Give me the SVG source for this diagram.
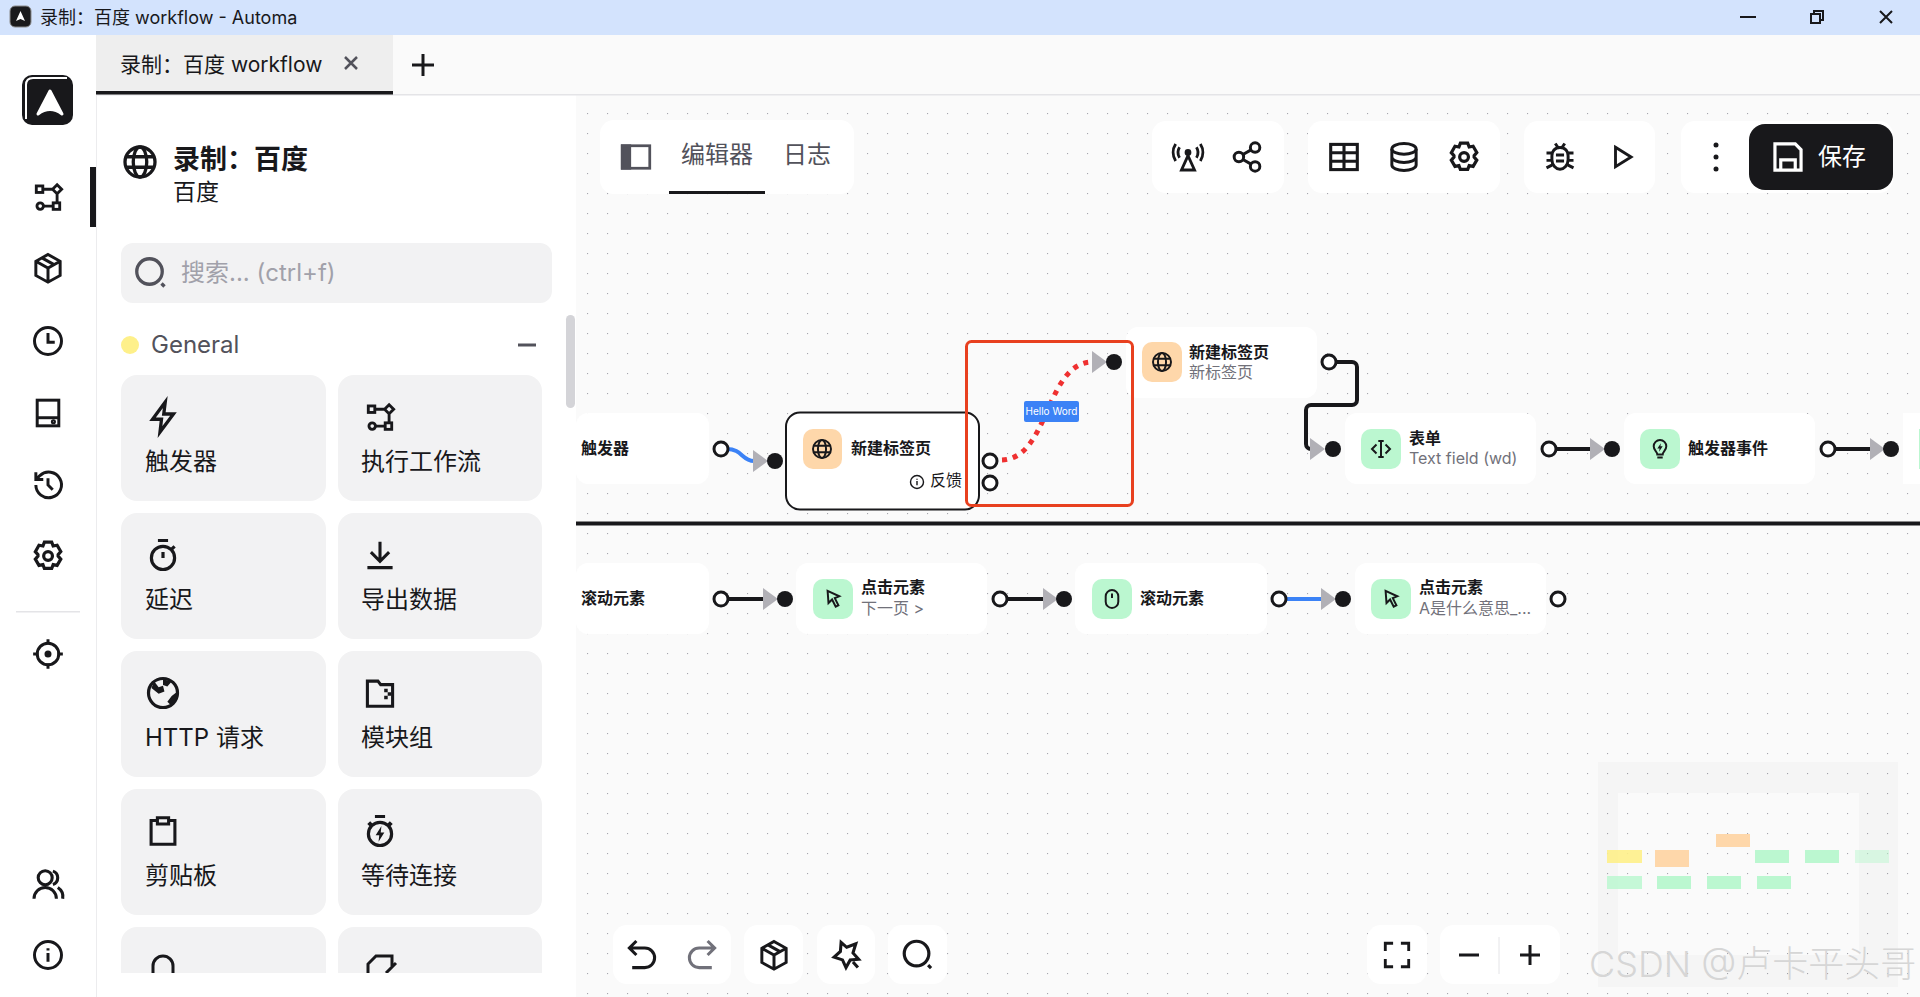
<svg xmlns="http://www.w3.org/2000/svg" width="1920" height="997" viewBox="0 0 1920 997">
<style>
text{font-family:"Inter","Noto Sans CJK SC",sans-serif;fill:#18181b}
.ic{fill:none;stroke:#18181b;stroke-width:2.200;stroke-linejoin:miter}
.mut{stroke:#52525b}
.gry{stroke:#71717a}
.wht{stroke:#fff}
.card{fill:#f2f2f3}
.lbl{font-size:24px}
.bar{fill:#fff}
.node{fill:#fff}
.ot{fill:#fed7aa}
.gt{fill:#bbf7d0}
.t{font-size:16px;font-weight:700}
.s{font-size:16px;fill:#71717a}
.h{fill:#fff;stroke:#18181b;stroke-width:3}
.tg{fill:#18181b}
.c{fill:none;stroke:#18181b;stroke-width:4;marker-end:url(#arrow)}
.b{stroke:#3b82f6}
.m{fill:#bbf7d0}
</style>
<defs>
<pattern id="dots" x="7" y="13" width="20" height="20" patternUnits="userSpaceOnUse"><circle cx="0.5" cy="0.5" r="0.7" fill="#a6a6ad"/></pattern>
<marker id="arrow" viewBox="0 0 15 22" refX="1" refY="11" markerWidth="15" markerHeight="22" markerUnits="userSpaceOnUse" orient="auto"><path d="M0 0L15 11L0 22z" fill="#b1b0b6"/></marker>
<clipPath id="listclip"><rect x="96" y="300" width="470" height="673"/></clipPath>
<g id="i-flow" transform="translate(-12 -12)"><rect x="3" y="3.500" width="5" height="5"/><path d="M19 2.500l3.500 3.500-3.500 3.500-3.500-3.500z M8 6h7.500 M19 9.500V16 M8.500 19H16"/><circle cx="6" cy="19" r="2.500"/><rect x="16" y="16.500" width="5" height="5"/></g>
<g id="i-cube" transform="translate(-12 -12)"><path d="M12 2l9 5v10.500l-9 5-9-5V7z M3 7l9 5 9-5 M12 12v10.500 M7.500 4.500l9 5"/></g>
<g id="i-clock" transform="translate(-12 -12)"><circle cx="12" cy="12" r="10"/><path d="M12 6v7h5"/></g>
<g id="i-drive" transform="translate(-12 -12)"><rect x="4" y="2.500" width="16" height="19"/><path d="M4 15.500h16"/><circle cx="16" cy="18.500" r="0.800"/></g>
<g id="i-hist" transform="translate(-12 -12)"><path d="M3 12a9.500 9.500 0 1 0 3-7L3.500 7.500 M3 2.500V8h5.500 M12 7v5l3.500 3.500"/></g>
<g id="i-gear" transform="translate(-12 -12) translate(-2 -2) scale(1.170)"><path d="M9.500 2.500h5l1 2.600 2.700-.5 2.500 4.300-1.800 2.100v1l1.800 2.100-2.500 4.300-2.700-.5-1 2.600h-5l-1-2.600-2.700.5-2.500-4.300 1.800-2.100v-1L3.300 9 5.800 4.600l2.700.5z"/><circle cx="12" cy="12" r="3"/></g>
<g id="i-target" transform="translate(-12 -12)"><circle cx="12" cy="12" r="8"/><circle cx="12" cy="12" r="1.500" fill="#18181b"/><path d="M12 1v4 M12 19v4 M1 12h4 M19 12h4"/></g>
<g id="i-users" transform="translate(-12 -12)"><circle cx="10" cy="7.500" r="5"/><path d="M2 22.500a8 8 0 0 1 16 0 M15.500 2.800a5 5 0 0 1 0 9.500 M19 14.500a8 8 0 0 1 3.500 8"/></g>
<g id="i-info" transform="translate(-12 -12)"><circle cx="12" cy="12" r="10"/><path d="M12 10.500V17 M12 7v1.600"/></g>
<g id="i-search" transform="translate(-12 -12)"><circle cx="11" cy="11" r="8.500"/><path d="M19 19l2 2"/></g>
<g id="i-bolt" transform="translate(-12 -12)"><path d="M13.500 2L5 13.500h6L10 22l9-12h-6.500z"/></g>
<g id="i-timer" transform="translate(-12 -12)"><circle cx="12" cy="14" r="8"/><path d="M8.500 2h7 M12 10v4 M18 8l2-2"/></g>
<g id="i-down" transform="translate(-12 -12)"><path d="M12 2.500v14 M5.500 10l6.500 6.500 6.500-6.500 M3 21h18"/></g>
<g id="i-earth" transform="translate(-12 -12)"><circle cx="12" cy="12" r="10"/><path d="M6 4l3 4 3-1 1 4-4 1.500-5-4z M12 2.500l6 1.500-3 3.500-3-1z M22 11l-4 3-3 4 3 3 4-5z" fill="#18181b" stroke="none"/></g>
<g id="i-zip" transform="translate(-12 -12)"><path d="M3 3.500h7.500l2 2.500H21v15.500H3z"/><path d="M15 9h2.500v2.500H15z M17.500 11.500H20V14h-2.500z M15 14h2.500v2.500H15z" fill="#18181b" stroke="none"/></g>
<g id="i-clip" transform="translate(-12 -12)"><path d="M8 4.500H3.500v17h17v-17H16 M8 2.500h8v4.500H8z"/></g>
<g id="i-tflash" transform="translate(-12 -12)"><circle cx="12" cy="14" r="8"/><path d="M8.500 2h7 M4 8L6 6 M20 8L18 6"/><path d="M13 8.500l-4 6.500h2.500L11 19.500l4-6.500h-2.500z" fill="#18181b" stroke="none"/></g>
<g id="i-panel" transform="translate(-12 -12)"><rect x="1" y="3" width="22" height="18"/><rect x="1" y="3" width="6" height="18" fill="#52525b"/></g>
<g id="i-radar" transform="translate(-12 -12)"><path d="M12 11L7 22h10z M5.500 12.500a7.500 7.500 0 0 1 0-8 M18.500 12.500a7.500 7.500 0 0 0 0-8 M2.500 15a12 12 0 0 1 0-13 M21.500 15a12 12 0 0 0 0-13"/><circle cx="12" cy="8.500" r="1.500" fill="#18181b"/></g>
<g id="i-share" transform="translate(-12 -12)"><circle cx="18" cy="5" r="3.500"/><circle cx="6" cy="12" r="3.500"/><circle cx="18" cy="19" r="3.500"/><path d="M9 10.200l6-3.500 M9 13.800l6 3.500"/></g>
<g id="i-table" transform="translate(-12 -12)"><rect x="2.500" y="3" width="19" height="18"/><path d="M2.500 9h19 M2.500 15h19 M12 3v18"/></g>
<g id="i-db" transform="translate(-12 -12)"><ellipse cx="12" cy="6" rx="9" ry="4"/><path d="M3 6v12c0 2.200 4 4 9 4s9-1.800 9-4V6 M3 12c0 2.200 4 4 9 4s9-1.800 9-4"/></g>
<g id="i-bug" transform="translate(-12 -12)"><path d="M12 5c4 0 6 3 6 6v3c0 4-3 7-6 7s-6-3-6-7v-3c0-3 2-6 6-6z M8.500 2l2 3 M15.500 2l-2 3 M2 9h4 M18 9h4 M2 14.500h4 M18 14.500h4 M2 20l4-2 M22 20l-4-2 M9 10.500h6 M9 15h6"/></g>
<g id="i-play" transform="translate(-12 -12)"><path d="M7 4.500L19 12 7 19.500z"/></g>
<g id="i-save" transform="translate(-12 -12)"><path d="M3 3h14l4 4v14H3z M7 21v-7h10v7"/></g>
<g id="i-undo" transform="translate(-12 -12)"><path d="M8 2L3 7l5 5 M3 7h11a7 7 0 0 1 0 14H5"/></g>
<g id="i-redo" transform="translate(-12 -12)"><path d="M16 2l5 5-5 5 M21 7H10a7 7 0 0 0 0 14h9"/></g>
<g id="i-star" transform="translate(-12 -12)"><path d="M8.500 3l4 3.500L19 4l-2 6.500L21 15l-6 .5L12 21l-2.500-5.500-6-2 4.500-4z M17 17l3.500 4"/></g>
<g id="i-full" transform="translate(-12 -12)"><path d="M3 9V3h6 M15 3h6v6 M21 15v6h-6 M9 21H3v-6"/></g>
<g id="i-globe" transform="translate(-12 -12)"><circle cx="12" cy="12" r="10"/><ellipse cx="12" cy="12" rx="4.500" ry="10"/><path d="M2.500 8.500h19 M2.500 15.500h19"/></g>
<g id="i-cursor" transform="translate(-12 -12)"><path d="M6 3l13 6-5 2 4 8-3 1.500-4-8-4 4z"/></g>
<g id="i-mouse" transform="translate(-12 -12)"><rect x="5" y="2" width="14" height="20" rx="7"/><path d="M12 6v5"/></g>
<g id="i-form" transform="translate(-12 -12)"><path d="M7 7l-5 5 5 5 M17 7l5 5-5 5 M12 3v18 M9 3h6 M9 21h6"/></g>
<g id="i-bulb" transform="translate(-12 -12)"><path d="M9 18c0-3-4-4-4-9a7 7 0 0 1 14 0c0 5-4 6-4 9z M9 21.500h6"/><path d="M13 5.500l-4 6h2.500L11 15l4-6h-2.500z" fill="#18181b" stroke="none"/></g>
</defs>

<rect width="1920" height="997" fill="#fff"/>
<rect id="canvas" x="576" y="94" width="1344" height="903" fill="#fafafa"/>
<rect x="576" y="94" width="1344" height="903" fill="url(#dots)"/>

<g id="titlebar">
<rect width="1920" height="35" fill="#d3e3fd"/>
<rect x="10" y="6" width="21" height="21" rx="5" fill="#1a1a1c" stroke="#8a8a8a"/>
<path d="M20.500 11l4.500 10-4.500-2-4.500 2z" fill="#fff"/>
<text x="40" y="24" font-size="18">录制：百度 workflow - Automa</text>
<path d="M1740 17h16" stroke="#18181b" stroke-width="2"/>
<path d="M1811 14h9v9h-9z M1814 14v-3h9v9h-3" fill="none" stroke="#18181b" stroke-width="2"/>
<path d="M1880 11l12 12 M1892 11l-12 12" stroke="#18181b" stroke-width="2"/>
</g>

<g id="tabs">
<rect x="96" y="35" width="1824" height="59" fill="#fafafa"/>
<rect x="96" y="35" width="297" height="59" fill="#eeeeee"/>
<rect x="96" y="94" width="1824" height="1.500" fill="#e4e4e7"/>
<rect x="96" y="91" width="297" height="3.500" fill="#18181b"/>
<text x="120" y="72" font-size="21">录制：百度 workflow</text>
<path d="M345 57l12 12 M357 57l-12 12" stroke="#52525b" stroke-width="2.500"/>
<path d="M412 65h22 M423 54v22" stroke="#18181b" stroke-width="3"/>
</g>

<g id="rail">
<rect x="96" y="95" width="1" height="902" fill="#ececee"/>
<rect x="22" y="75" width="51" height="50" rx="10" fill="#18181b"/>
<path d="M26 119V85q0-7 7-7h34" fill="none" stroke="#fff" stroke-width="2"/>
<path d="M50 91l12 23q-12-9-24 0z" fill="#fff" stroke="#fff" stroke-width="3" stroke-linejoin="round"/>
<rect x="90" y="167" width="6" height="60" fill="#18181b"/>
<use href="#i-flow" class="ic" transform="translate(48 197) scale(1.300)"/>
<use href="#i-cube" class="ic" transform="translate(48 268) scale(1.350)"/>
<use href="#i-clock" class="ic" transform="translate(48 341) scale(1.350)"/>
<use href="#i-drive" class="ic" transform="translate(48 413) scale(1.350)"/>
<use href="#i-hist" class="ic" transform="translate(48 485) scale(1.350)"/>
<use href="#i-gear" class="ic" transform="translate(48 556) scale(1.250)"/>
<rect x="16" y="611" width="64" height="1.500" fill="#e4e4e7"/>
<use href="#i-target" class="ic" transform="translate(48 654) scale(1.350)"/>
<use href="#i-users" class="ic" transform="translate(48 884) scale(1.400)"/>
<use href="#i-info" class="ic" transform="translate(48 955) scale(1.350)"/>
</g>

<g id="panel">
<use href="#i-globe" class="ic" transform="translate(140 162) scale(1.500)"/>
<text x="173" y="169" font-size="27" font-weight="700">录制：百度</text>
<text x="173" y="200" font-size="23">百度</text>
<rect x="121" y="243" width="431" height="60" rx="12" class="card"/>
<use href="#i-search" class="ic mut" transform="translate(151 273) scale(1.500)"/>
<text x="181" y="281" font-size="24" style="fill:#a1a1aa">搜索... (ctrl+f)</text>
<circle cx="130" cy="345" r="9" fill="#fef08a"/>
<text x="151" y="353" font-size="24" style="fill:#52525b">General</text>
<path d="M518 345h18" stroke="#52525b" stroke-width="3"/>
<rect x="566" y="315" width="9" height="93" rx="4.500" fill="#d4d4d8"/>
<g clip-path="url(#listclip)">
<g id="card-trigger"><rect x="121" y="375" width="205" height="126" rx="16" class="card"/><use href="#i-bolt" class="ic" transform="translate(163 417) scale(1.500)"/><text x="145" y="470" class="lbl">触发器</text></g>
<g id="card-workflow"><rect x="338" y="375" width="204" height="126" rx="16" class="card"/><use href="#i-flow" class="ic" transform="translate(380 417) scale(1.300)"/><text x="361" y="470" class="lbl">执行工作流</text></g>
<g id="card-delay"><rect x="121" y="513" width="205" height="126" rx="16" class="card"/><use href="#i-timer" class="ic" transform="translate(163 555) scale(1.450)"/><text x="145" y="608" class="lbl">延迟</text></g>
<g id="card-export"><rect x="338" y="513" width="204" height="126" rx="16" class="card"/><use href="#i-down" class="ic" transform="translate(380 555) scale(1.400)"/><text x="361" y="608" class="lbl">导出数据</text></g>
<g id="card-http"><rect x="121" y="651" width="205" height="126" rx="16" class="card"/><use href="#i-earth" class="ic" transform="translate(163 693) scale(1.450)"/><text x="145" y="746" class="lbl">HTTP 请求</text></g>
<g id="card-group"><rect x="338" y="651" width="204" height="126" rx="16" class="card"/><use href="#i-zip" class="ic" transform="translate(380 693) scale(1.400)"/><text x="361" y="746" class="lbl">模块组</text></g>
<g id="card-clipboard"><rect x="121" y="789" width="205" height="126" rx="16" class="card"/><use href="#i-clip" class="ic" transform="translate(163 831) scale(1.400)"/><text x="145" y="884" class="lbl">剪贴板</text></g>
<g id="card-wait"><rect x="338" y="789" width="204" height="126" rx="16" class="card"/><use href="#i-tflash" class="ic" transform="translate(380 831) scale(1.450)"/><text x="361" y="884" class="lbl">等待连接</text></g>
<g id="card-next1"><rect x="121" y="927" width="205" height="126" rx="16" class="card"/><path d="M153 980V966a10 10 0 0 1 20 0v14" fill="none" stroke="#18181b" stroke-width="3"/></g>
<g id="card-next2"><rect x="338" y="927" width="204" height="126" rx="16" class="card"/><path d="M368 980V964l8-8h16v10 M396 963l-10 10" fill="none" stroke="#18181b" stroke-width="3"/></g>
</g>
</g>

<g id="toolbar-top">
<rect x="600" y="120" width="254" height="74" rx="14" class="bar"/>
<use href="#i-panel" class="ic mut" transform="translate(636 157) scale(1.250)"/>
<text x="681" y="163" font-size="24" style="fill:#52525b">编辑器</text>
<text x="783" y="163" font-size="24" style="fill:#52525b">日志</text>
<rect x="669" y="191" width="96" height="3" fill="#18181b"/>
<rect x="1152" y="121" width="132" height="72" rx="14" class="bar"/>
<use href="#i-radar" class="ic" transform="translate(1188 157) scale(1.300)"/>
<use href="#i-share" class="ic" transform="translate(1247 157) scale(1.350)"/>
<rect x="1308" y="121" width="192" height="72" rx="14" class="bar"/>
<use href="#i-table" class="ic" transform="translate(1344 157) scale(1.400)"/>
<use href="#i-db" class="ic" transform="translate(1404 157) scale(1.350)"/>
<use href="#i-gear" class="ic" transform="translate(1464 157) scale(1.250)"/>
<rect x="1524" y="121" width="131" height="72" rx="14" class="bar"/>
<use href="#i-bug" class="ic" transform="translate(1560 157) scale(1.350)"/>
<use href="#i-play" class="ic" transform="translate(1622 157) scale(1.300)"/>
<rect x="1681" y="121" width="212" height="72" rx="14" class="bar"/>
<circle cx="1716" cy="145" r="2.500" fill="#18181b"/><circle cx="1716" cy="157" r="2.500" fill="#18181b"/><circle cx="1716" cy="169" r="2.500" fill="#18181b"/>
<rect x="1749" y="124" width="144" height="66" rx="16" fill="#18181b"/>
<use href="#i-save" class="ic wht" transform="translate(1788 157) scale(1.450)"/>
<text x="1818" y="165" font-size="24" style="fill:#fff">保存</text>
</g>

<g id="connectors">
<path class="c b" d="M727 449C742 449 742 461 754 461"/>
<path class="c" d="M1002 460C1050 458 1045 362 1093 362" style="stroke:#ef3030;stroke-width:5;stroke-dasharray:5 6"/>
<path class="c" d="M1335 362H1352a5 5 0 0 1 5 5V400a5 5 0 0 1-5 5H1311a5 5 0 0 0-5 5V444a5 5 0 0 0 5 5"/>
<path class="c" d="M1555 449H1591"/>
<path class="c" d="M1834 449H1871"/>
<path class="c" d="M727 599H764"/>
<path class="c" d="M1007 599H1044"/>
<path class="c b" d="M1286 599H1322"/>
</g>

<g id="node-trigger">
<rect x="576" y="413" width="133" height="71" rx="12" class="node"/>
<text x="581" y="454" class="t">触发器</text>
<circle cx="721" cy="449" r="7" class="h"/>
</g>
<g id="node-newtab-1">
<circle cx="775" cy="461" r="8" class="tg"/>
<rect x="786" y="412.500" width="193" height="97" rx="14" class="node" stroke="#18181b" stroke-width="2"/>
<rect x="803" y="429" width="39" height="40" rx="10" class="ot"/>
<use href="#i-globe" class="ic" transform="translate(822 449) scale(.9)"/>
<text x="851" y="454" class="t">新建标签页</text>
<use href="#i-info" class="ic" transform="translate(917 482) scale(.65)"/>
<text x="930" y="486" font-size="16">反馈</text>
<circle cx="990" cy="461" r="7" class="h"/>
<circle cx="990" cy="483" r="7" class="h"/>
</g>
<g id="edge-label">
<rect x="1024" y="401" width="55" height="21" rx="2" fill="#3b82f6"/>
<text x="1051.500" y="415" font-size="10" text-anchor="middle" style="fill:#fff">Hello Word</text>
</g>
<g id="node-newtab-2">
<circle cx="1114" cy="362" r="8" class="tg"/>
<rect x="1126" y="327" width="191" height="71" rx="12" class="node"/>
<rect x="1142" y="342" width="40" height="40" rx="10" class="ot"/>
<use href="#i-globe" class="ic" transform="translate(1162 362) scale(.9)"/>
<text x="1189" y="358" class="t">新建标签页</text>
<text x="1189" y="378" class="s">新标签页</text>
<circle cx="1329" cy="362" r="7" class="h"/>
</g>
<g id="node-form">
<circle cx="1333" cy="449" r="8" class="tg"/>
<rect x="1345" y="413" width="191" height="71" rx="12" class="node"/>
<rect x="1361" y="429" width="40" height="40" rx="10" class="gt"/>
<use href="#i-form" class="ic" transform="translate(1381 449) scale(.9)"/>
<text x="1409" y="444" class="t">表单</text>
<text x="1409" y="464" class="s">Text field (wd)</text>
<circle cx="1549" cy="449" r="7" class="h"/>
</g>
<g id="node-trigger-event">
<circle cx="1612" cy="449" r="8" class="tg"/>
<rect x="1624" y="413" width="191" height="71" rx="12" class="node"/>
<rect x="1640" y="429" width="40" height="40" rx="10" class="gt"/>
<use href="#i-bulb" class="ic" transform="translate(1660 449) scale(.9)"/>
<text x="1688" y="454" class="t">触发器事件</text>
<circle cx="1828" cy="449" r="7" class="h"/>
</g>
<g id="node-next">
<circle cx="1891" cy="449" r="8" class="tg"/>
<rect x="1903" y="413" width="17" height="71" class="node"/>
<rect x="1919" y="429" width="1" height="40" class="gt"/>
</g>
<rect id="divider" x="576" y="521.500" width="1344" height="4" fill="#18181b"/>
<g id="node-scroll-1">
<rect x="576" y="563" width="133" height="71" rx="12" class="node"/>
<text x="581" y="604" class="t">滚动元素</text>
<circle cx="721" cy="599" r="7" class="h"/>
</g>
<g id="node-click-1">
<circle cx="785" cy="599" r="8" class="tg"/>
<rect x="796" y="563" width="191" height="71" rx="12" class="node"/>
<rect x="813" y="579" width="40" height="40" rx="10" class="gt"/>
<use href="#i-cursor" class="ic" transform="translate(833 599) scale(.9)"/>
<text x="861" y="593" class="t">点击元素</text>
<text x="861" y="614" class="s">下一页 &gt;</text>
<circle cx="1000" cy="599" r="7" class="h"/>
</g>
<g id="node-scroll-2">
<circle cx="1064" cy="599" r="8" class="tg"/>
<rect x="1075" y="563" width="192" height="71" rx="12" class="node"/>
<rect x="1092" y="579" width="40" height="40" rx="10" class="gt"/>
<use href="#i-mouse" class="ic" transform="translate(1112 599) scale(.9)"/>
<text x="1140" y="604" class="t">滚动元素</text>
<circle cx="1279" cy="599" r="7" class="h"/>
</g>
<g id="node-click-2">
<circle cx="1343" cy="599" r="8" class="tg"/>
<rect x="1355" y="563" width="191" height="71" rx="12" class="node"/>
<rect x="1371" y="579" width="40" height="40" rx="10" class="gt"/>
<use href="#i-cursor" class="ic" transform="translate(1391 599) scale(.9)"/>
<text x="1419" y="593" class="t">点击元素</text>
<text x="1419" y="614" class="s">A是什么意思_...</text>
<circle cx="1558" cy="599" r="7" class="h"/>
</g>
<rect id="highlight" x="966.500" y="341.500" width="166" height="164" rx="5" fill="none" stroke="#e8401f" stroke-width="3"/>

<g id="toolbar-bottom">
<rect x="613" y="925" width="118" height="59" rx="14" class="bar"/>
<use href="#i-undo" class="ic" transform="translate(642 955) scale(1.400)"/>
<use href="#i-redo" class="ic gry" transform="translate(702 955) scale(1.400)"/>
<rect x="744" y="925" width="59" height="59" rx="14" class="bar"/>
<use href="#i-cube" class="ic" transform="translate(774 955) scale(1.350)"/>
<rect x="817" y="925" width="58" height="59" rx="14" class="bar"/>
<use href="#i-star" class="ic" transform="translate(846 955) scale(1.400)"/>
<rect x="888" y="925" width="59" height="59" rx="14" class="bar"/>
<use href="#i-search" class="ic" transform="translate(918 955) scale(1.450)"/>
<rect x="1367" y="925" width="60" height="59" rx="14" class="bar"/>
<use href="#i-full" class="ic" transform="translate(1397 955) scale(1.300)"/>
<rect x="1440" y="925" width="120" height="59" rx="14" class="bar"/>
<path d="M1459 955h20 M1520 955h20 M1530 945v20" stroke="#18181b" stroke-width="3" fill="none"/>
<path d="M1499 937v37" stroke="#e4e4e7"/>
</g>

<g id="minimap">
<path d="M1598 762h300v225h-300z M1618 793v162h241V793z" fill="#000" opacity=".018" fill-rule="evenodd"/>
<rect x="1607" y="850" width="35" height="13" fill="#fef08a" opacity=".9"/>
<rect x="1655" y="850" width="34" height="17" fill="#fed7aa"/>
<rect x="1716" y="834" width="34" height="13" fill="#fed7aa"/>
<rect x="1755" y="850" width="34" height="13" class="m"/>
<rect x="1805" y="850" width="34" height="13" class="m"/>
<rect x="1855" y="850" width="34" height="13" class="m" opacity=".5"/>
<rect x="1607" y="876" width="35" height="13" class="m" opacity=".85"/>
<rect x="1657" y="876" width="34" height="13" class="m"/>
<rect x="1707" y="876" width="34" height="13" class="m"/>
<rect x="1757" y="876" width="34" height="13" class="m"/>
</g>
<text id="watermark" x="1589" y="977" font-size="36" font-weight="300" style="fill:#d6d6d6">CSDN @卢卡平头哥</text>
</svg>
